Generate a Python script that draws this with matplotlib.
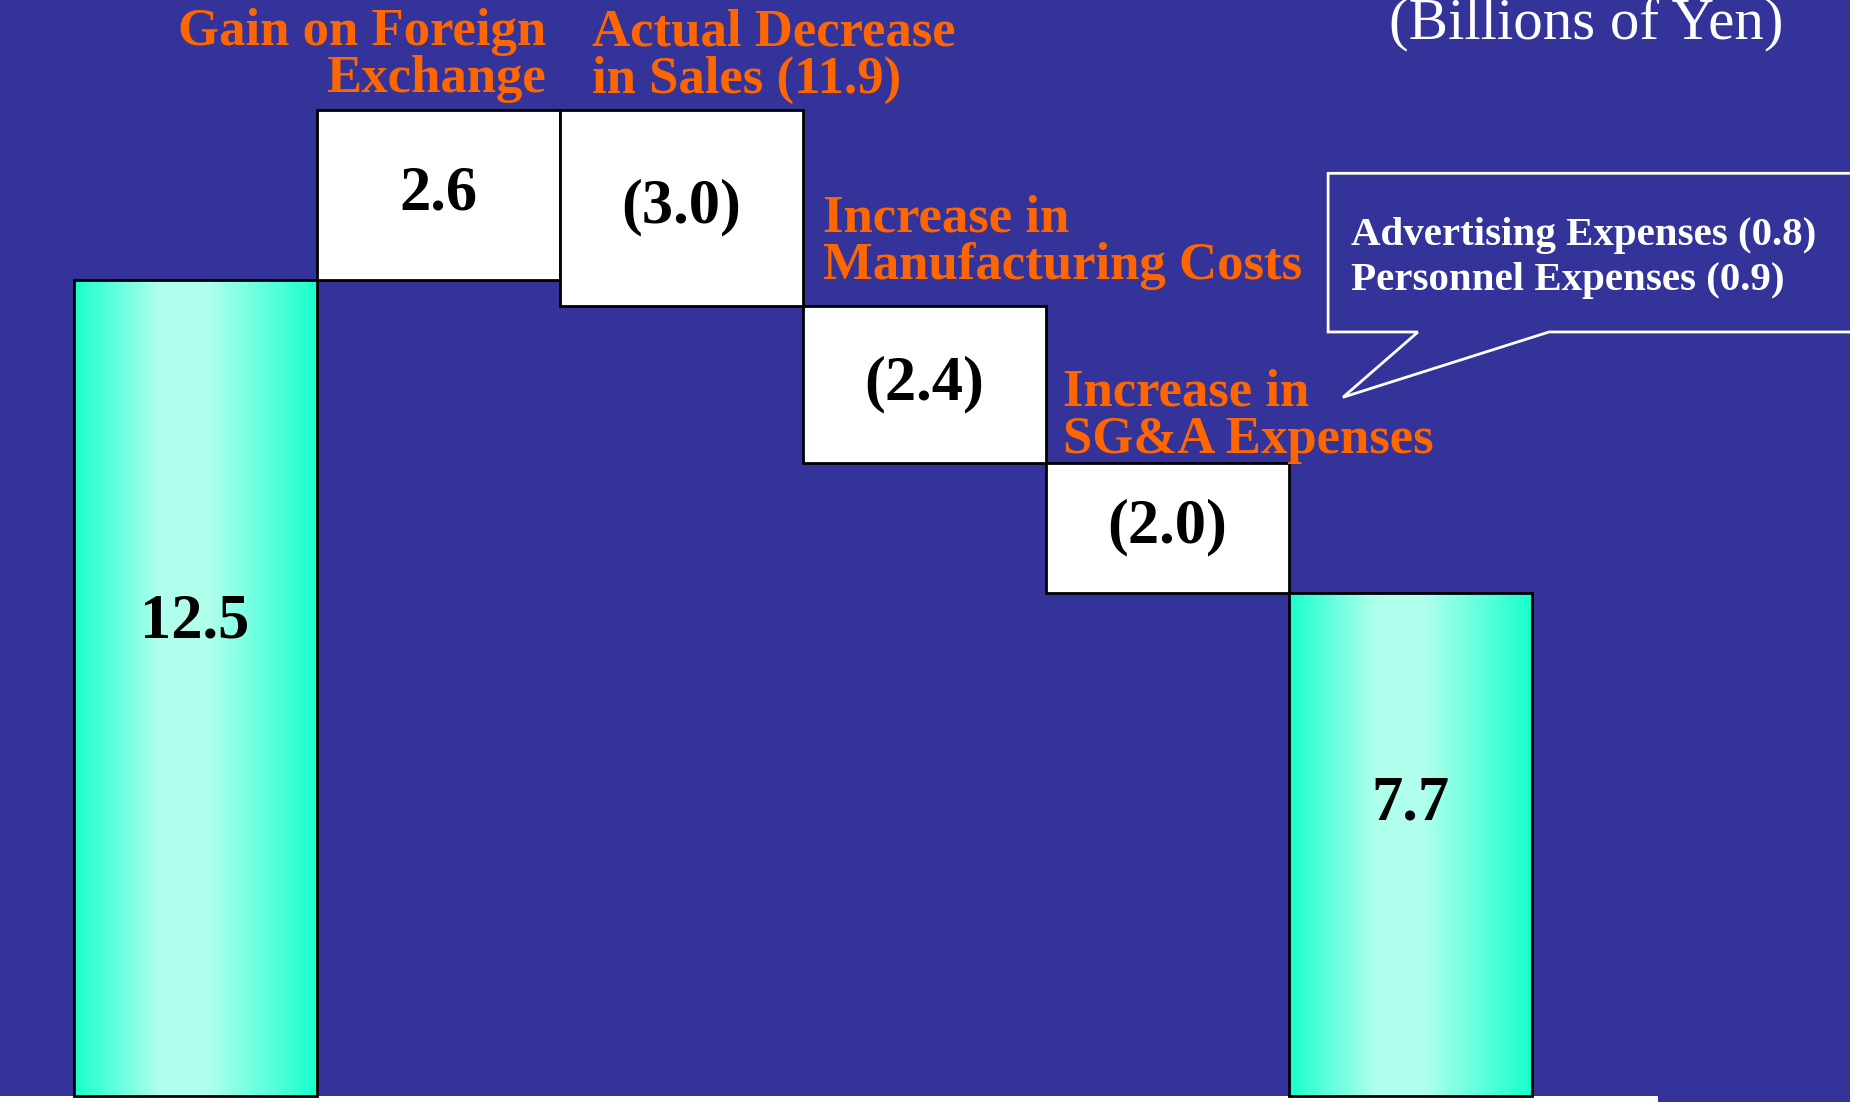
import matplotlib.pyplot as plt
import numpy as np
from matplotlib.colors import LinearSegmentedColormap
from matplotlib.patches import Rectangle, Polygon

# Operating income bridge, billions of yen
start_value = 12.5
end_value = 7.7
change_values = [2.6, -3.0, -2.4, -2.0]
change_labels = ["2.6", "(3.0)", "(2.4)", "(2.0)"]
change_titles = [
    "Gain on Foreign\nExchange",
    "Actual Decrease\nin Sales (11.9)",
    "Increase in\nManufacturing Costs",
    "Increase in\nSG&A Expenses",
]
sga_breakdown = ["Advertising Expenses (0.8)", "Personnel Expenses (0.9)"]

BG = "#333399"
ORANGE = "#FF6600"
SERIF = ["Liberation Serif", "DejaVu Serif"]

fig = plt.figure(figsize=(18.5, 11.02), dpi=100, facecolor=BG)
ax = fig.add_axes([0, 0, 1, 1])
ax.set_facecolor(BG)
ax.set_xlim(-0.8025, -0.8025 + 1850 / 243)
ax.set_ylim(-0.092, -0.092 + 1102 / 65.3)
ax.axis("off")

# horizontal gradient used to shade the two total bars
bar_cmap = LinearSegmentedColormap.from_list(
    "aqua",
    [(0.0, "#18FFCC"), (0.35, "#AEFFEC"), (0.55, "#B2FFEE"), (1.0, "#18FFCC")],
)
grad = np.linspace(0, 1, 256).reshape(1, -1)


def total_bar(x, value):
    im = ax.imshow(grad, cmap=bar_cmap, aspect="auto",
                   extent=(x - 0.5, x + 0.5, 0, value), zorder=2)
    rect = Rectangle((x - 0.5, 0), 1, value, fill=False,
                     edgecolor="black", linewidth=2, zorder=3)
    ax.add_patch(rect)
    im.set_clip_path(rect)
    ax.text(x, value * 0.58, f"{value:.1f}", ha="center", va="center",
            fontsize=45, fontweight="bold", family=SERIF, zorder=4)


total_bar(0, start_value)

# floating boxes for each change
level = start_value
for i, (chg, lab) in enumerate(zip(change_values, change_labels), start=1):
    lo = min(level, level + chg)
    ax.add_patch(Rectangle((i - 0.5, lo), 1, abs(chg), facecolor="white",
                           edgecolor="black", linewidth=2, zorder=3))
    ax.text(i, lo + abs(chg) / 2, lab, ha="center", va="center",
            fontsize=45, fontweight="bold", family=SERIF, zorder=4)
    level += chg

total_bar(len(change_values) + 1, end_value)

# strip under the baseline
ax.add_patch(Rectangle((-0.81, -0.2), 6.83, 0.2, facecolor="white",
                       edgecolor="none", zorder=1))

# category captions (y is the baseline of the second line)
caption_kw = dict(color=ORANGE, fontsize=38, fontweight="bold", family=SERIF,
                  va="baseline", linespacing=0.98, zorder=5)
ax.text(1.444, 15.37, change_titles[0], ha="right", multialignment="right",
        **caption_kw)
ax.text(1.634, 15.37, change_titles[1], ha="left", **caption_kw)
ax.text(2.584, 12.51, change_titles[2], ha="left", **caption_kw)
ax.text(3.572, 9.85, change_titles[3], ha="left", **caption_kw)

# speech-bubble callout for the SG&A breakdown
bubble = Polygon(
    [(5.033, 11.70), (4.663, 11.70), (4.663, 14.13), (7.2, 14.13),
     (7.2, 11.70), (5.572, 11.70), (4.724, 10.70)],
    closed=True, fill=False, edgecolor="white", linewidth=2, zorder=5,
)
ax.add_patch(bubble)
ax.text(4.757, 12.34, "\n".join(sga_breakdown), color="white", fontsize=29.5,
        fontweight="bold", family=SERIF, ha="left", va="baseline",
        linespacing=1.3, zorder=6)

ax.text(6.535, 16.19, "(Billions of Yen)", color="white", fontsize=42.5,
        family=SERIF, ha="right", va="baseline", zorder=5)

fig.savefig("out.png", dpi=100, facecolor=BG)
plt.close(fig)
